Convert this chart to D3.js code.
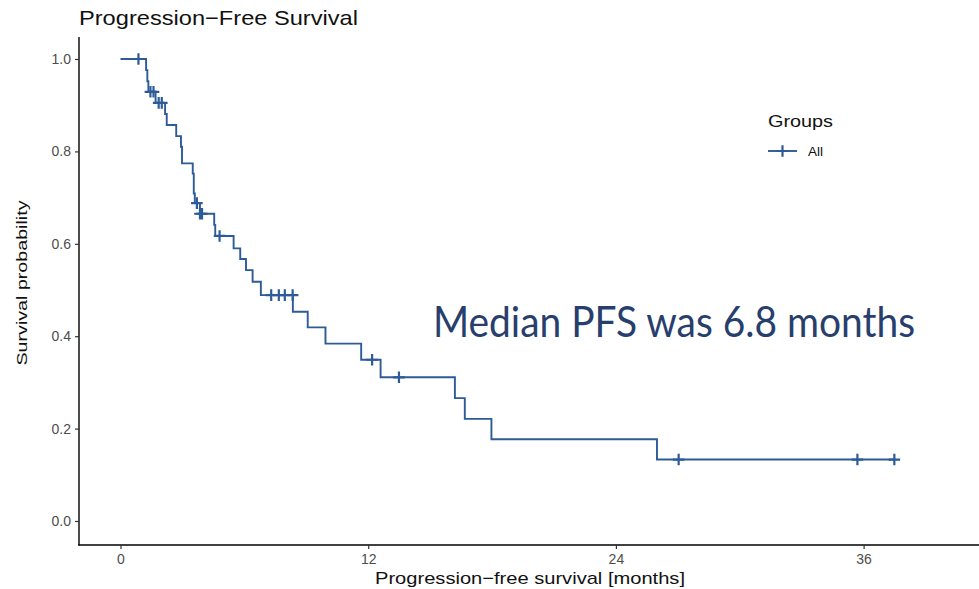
<!DOCTYPE html>
<html>
<head>
<meta charset="utf-8">
<script src="https://cdn.jsdelivr.net/npm/d3@7"></script>
<style>
  html, body { margin: 0; padding: 0; background: #fff; }
  svg { display: block; }
</style>
</head>
<body>
<svg id="chart" width="979" height="589"></svg>
<script>
// Kaplan–Meier estimate of progression-free survival (all patients)
// Event times (months) and the survival level after each drop
const eventTimes = [1.24, 1.30, 1.35, 1.70, 2.16, 2.24, 2.70, 2.93, 2.98, 3.50, 3.55, 3.60, 3.85,
                    4.54, 4.59, 5.48, 5.80, 6.08, 6.40, 6.80, 8.35, 9.07, 9.93, 11.66, 12.60,
                    16.20, 16.68, 17.97, 25.99];
const survival   = [0.976, 0.952, 0.929, 0.905, 0.881, 0.857, 0.833, 0.810, 0.774, 0.752, 0.709, 0.688, 0.665,
                    0.641, 0.617, 0.590, 0.567, 0.543, 0.518, 0.489, 0.453, 0.419, 0.384, 0.349, 0.311,
                    0.266, 0.221, 0.177, 0.133];
// Censored observations (months)
const censorTimes = [0.87, 1.45, 1.60, 1.85, 2.00, 3.70, 3.85, 3.95, 4.80, 7.30, 7.67, 7.96, 8.34,
                     12.19, 13.49, 27.04, 35.70, 37.49];
const xTicks = [0, 12, 24, 36];
const yTicks = [0, 0.2, 0.4, 0.6, 0.8, 1.0];
const groups = ["All"];

const svg = d3.select("#chart");
const x = d3.scaleLinear().domain([0, 36]).range([120.5, 863.6]);
const y = d3.scaleLinear().domain([0, 1]).range([521, 59]);
const lineColor = "#2d5b98";
const sans = "Liberation Sans, Arial, sans-serif";

// step curve points
const pts = [[0, 1]].concat(eventTimes.map((t, i) => [t, survival[i]]));
const tEnd = d3.max(censorTimes);
pts.push([tEnd, survival[survival.length - 1]]);

// survival level at a given time
function survAt(t) {
  let s = 1;
  eventTimes.forEach((e, i) => { if (e <= t) s = survival[i]; });
  return s;
}

// panel frame: left and bottom axis lines
const panelLeft = 79, panelBottom = 545, panelTop = 37, panelRight = 979;
svg.append("line").attr("x1", panelLeft).attr("x2", panelLeft)
  .attr("y1", panelTop).attr("y2", panelBottom + 0.6)
  .attr("stroke", "#000").attr("stroke-width", 1.4);
svg.append("line").attr("x1", panelLeft - 0.7).attr("x2", panelRight)
  .attr("y1", panelBottom).attr("y2", panelBottom)
  .attr("stroke", "#000").attr("stroke-width", 1.4);

// y axis
const yAxis = svg.append("g").attr("transform", `translate(${panelLeft},0)`)
  .call(d3.axisLeft(y).tickValues(yTicks).tickFormat(d3.format(".1f")).tickSize(4).tickPadding(4));
yAxis.select(".domain").remove();
yAxis.selectAll("line").attr("stroke", "#333").attr("stroke-width", 1.2);
yAxis.selectAll("text").attr("fill", "#4d4d4d").attr("font-family", sans).attr("font-size", 14);

// x axis
const xAxis = svg.append("g").attr("transform", `translate(0,${panelBottom})`)
  .call(d3.axisBottom(x).tickValues(xTicks).tickFormat(d3.format("d")).tickSize(4).tickPadding(5));
xAxis.select(".domain").remove();
xAxis.selectAll("line").attr("stroke", "#333").attr("stroke-width", 1.2);
xAxis.selectAll("text").attr("fill", "#4d4d4d").attr("font-family", sans).attr("font-size", 14);

// survival curve
svg.append("path")
  .datum(pts)
  .attr("fill", "none")
  .attr("stroke", lineColor)
  .attr("stroke-width", 1.9)
  .attr("d", d3.line().x(d => x(d[0])).y(d => y(d[1])).curve(d3.curveStepAfter));

// censor marks
const cs = 5.8;
svg.append("g").selectAll("path")
  .data(censorTimes)
  .join("path")
  .attr("d", t => {
    const cx = x(t), cy = y(survAt(t));
    return `M${cx - cs},${cy}H${cx + cs}M${cx},${cy - cs}V${cy + cs}`;
  })
  .attr("stroke", lineColor)
  .attr("stroke-width", 2.2)
  .attr("fill", "none");

// titles
svg.append("text").attr("x", 79).attr("y", 25)
  .attr("font-family", sans).attr("font-size", 21)
  .attr("fill", "#111").attr("textLength", 279).attr("lengthAdjust", "spacingAndGlyphs")
  .text("Progression\u2212Free Survival");

svg.append("text").attr("x", 530).attr("y", 584).attr("text-anchor", "middle")
  .attr("font-family", sans).attr("font-size", 17)
  .attr("fill", "#111").attr("textLength", 310).attr("lengthAdjust", "spacingAndGlyphs")
  .text("Progression\u2212free survival [months]");

svg.append("text").attr("transform", "translate(27,283) rotate(-90)").attr("text-anchor", "middle")
  .attr("font-family", sans).attr("font-size", 15.5)
  .attr("fill", "#111").attr("textLength", 165).attr("lengthAdjust", "spacingAndGlyphs")
  .text("Survival probability");

// legend
const lg = svg.append("g");
lg.append("text").attr("x", 768).attr("y", 127)
  .attr("font-family", sans).attr("font-size", 17)
  .attr("fill", "#111").attr("textLength", 65).attr("lengthAdjust", "spacingAndGlyphs")
  .text("Groups");
groups.forEach((g, i) => {
  const ly = 151 + i * 22;
  lg.append("line").attr("x1", 768).attr("x2", 797).attr("y1", ly).attr("y2", ly)
    .attr("stroke", lineColor).attr("stroke-width", 1.9);
  lg.append("path").attr("d", `M${782.5 - cs},${ly}H${782.5 + cs}M${782.5},${ly - cs}V${ly + cs}`)
    .attr("stroke", lineColor).attr("stroke-width", 2.2);
  lg.append("text").attr("x", 808).attr("y", ly + 5)
    .attr("font-family", sans).attr("font-size", 13.5)
    .attr("fill", "#111").text(g);
});

// median annotation
const medianPFS = 6.8;
svg.append("text").attr("x", 433).attr("y", 337)
  .attr("font-family", "Lato, 'Open Sans', sans-serif").attr("font-size", 42)
  .attr("fill", "#283f6e").attr("textLength", 482).attr("lengthAdjust", "spacingAndGlyphs")
  .text(`Median PFS was ${medianPFS} months`);
</script>
</body>
</html>
